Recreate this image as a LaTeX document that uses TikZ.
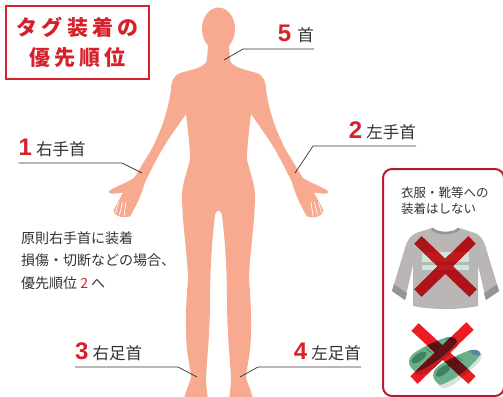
\documentclass[tikz,border=0pt]{standalone}
\usepackage{fontspec}
\usetikzlibrary{calc}
\setmainfont{Liberation Sans}
\newfontfamily\jp{Noto Sans CJK JP}
\newfontfamily\digitfont{Liberation Sans}

\definecolor{skin}{RGB}{247,170,143}
\definecolor{tagred}{RGB}{214,32,42}
\definecolor{boxred}{RGB}{183,28,44}
\definecolor{ink}{RGB}{51,51,51}
\definecolor{xred}{RGB}{236,28,36}
% plain colours of the shirt and shoes
\definecolor{shirtgray}{RGB}{186,182,182}
\definecolor{cuffgray}{RGB}{150,147,147}
\definecolor{mint}{RGB}{205,230,220}
\definecolor{shoegreen}{RGB}{104,176,138}
\definecolor{shoedark}{RGB}{62,128,98}
\definecolor{shoeblue}{RGB}{96,132,156}
\definecolor{solecol}{RGB}{214,228,220}
% the same colours seen through the red crosses
\definecolor{shirtgrayX}{RGB}{172,20,26}
\definecolor{cuffgrayX}{RGB}{139,16,21}
\definecolor{mintX}{RGB}{190,25,31}
\definecolor{shoegreenX}{RGB}{96,19,20}
\definecolor{shoedarkX}{RGB}{57,14,14}
\definecolor{shoeblueX}{RGB}{88,15,22}
\definecolor{solecolX}{RGB}{198,25,31}

\tikzset{
  leader/.style={draw=ink, line width=0.7pt},
  tag/.style={inner sep=0pt, text=ink},
}
\newcommand\numtxt[1]{{\digitfont\bfseries\fontsize{24}{24}\selectfont\color{tagred}#1}}
\newcommand\parttxt[1]{{\jp\fontsize{16.5}{16.5}\selectfont #1}}

% one bar of a cross, as a closed outline between two points
\newcommand\xband[2]{($(#1)!5.25pt!90:(#2)$) -- ($(#2)!5.25pt!-90:(#1)$)
  -- ($(#2)!5.25pt!90:(#1)$) -- ($(#1)!5.25pt!-90:(#2)$) -- cycle}

% left half of the figure, closed along the centre line
\newcommand\halfbody{%
  \fill[skin] (220,45) -- (208,45) -- (207,60)
    .. controls (205,68) and (190,70) .. (180,73)
    .. controls (173,76) and (171,82) .. (171,90)
    .. controls (168,110) and (162,130) .. (150,152)
    .. controls (143,163) and (138,172) .. (134,178)
    .. controls (128,182) and (120,185) .. (114,188)
    .. controls (109,190) and (107,193) .. (111,193.5)
    .. controls (115,194) and (119,193) .. (123,192.5)
    .. controls (120,199) and (115,206) .. (113.5,211)
    .. controls (114,216) and (123,218.5) .. (130,216.5)
    .. controls (135,208) and (140,198) .. (142.5,190)
    .. controls (144,186) and (145,182) .. (146,180)
    .. controls (152,168) and (160,152) .. (168,140)
    .. controls (176,128) and (182,120) .. (186,114)
    .. controls (188,130) and (190,148) .. (190,160)
    .. controls (186,175) and (181,188) .. (182,200)
    .. controls (183,230) and (188,260) .. (188,280)
    .. controls (186,300) and (185,330) .. (187,350)
    .. controls (189,365) and (191,372) .. (191,378)
    .. controls (189,385) and (185,392) .. (184,400)
    -- (208,400)
    .. controls (207,392) and (206,385) .. (206,378)
    .. controls (207,360) and (210,330) .. (210,300)
    .. controls (210,270) and (212,240) .. (215,215)
    .. controls (216,211) and (218,210) .. (220,210)
    -- cycle;
  \draw[white, line width=0.7pt] (118.5,202) -- (115.5,213)
    (122.5,202) -- (119.5,215) (126,202) -- (124,216);
}

% shirt, in the colours currently named shirtgray, cuffgray and mint
\newcommand\shirt{%
  \fill[shirtgray] (432,228) .. controls (437,234) and (454,234) .. (459,228)
    -- (475,233) .. controls (480,235) and (484,240) .. (486,248)
    -- (499,291) -- (486,300) -- (478,265) -- (478,306)
    .. controls (460,310) and (431,310) .. (413,306)
    -- (413,265) -- (405,300) -- (392,291) -- (405,248)
    .. controls (407,240) and (411,235) .. (416,233) -- cycle;
  \fill[cuffgray] (392,291) -- (405,300) -- (407,293.3) -- (394,284.3) -- cycle;
  \fill[cuffgray] (499,291) -- (486,300) -- (484,293.3) -- (497,284.3) -- cycle;
  \draw[cuffgray, line width=2.6pt] (432,228.5) .. controls (437,234.5) and (454,234.5) .. (459,228.5);
  \fill[mint] (422,252) rectangle (469,261.5);
  \fill[mint] (422,264.5) rectangle (469,270);
}

% one sneaker, toe towards +x
\newcommand\sneaker{%
  \fill[solecol] (-24,2) .. controls (-26,10) and (-20,12) .. (-10,12)
    -- (14,10) .. controls (24,9) and (27,4) .. (24,0) -- cycle;
  \fill[shoegreen] (-23,5) .. controls (-27,-4) and (-22,-10) .. (-14,-10)
    .. controls (-4,-10) and (6,-8) .. (14,-6)
    .. controls (22,-4) and (26,0) .. (24,4)
    .. controls (15,8) and (-10,10) .. (-23,5) -- cycle;
  \fill[shoeblue] (17,-5) .. controls (23,-3) and (26,0) .. (24,4)
    .. controls (21,4.5) and (18,2) .. (17,-5) -- cycle;
  \fill[shoedark] (-13,-4) ellipse [x radius=8, y radius=3.5];
  \draw[shoedark, line width=0.8pt] (-3,-7) -- (-1,-1) (1,-7) -- (3,-1)
    (5,-6.5) -- (7,-1);
}
\newcommand\shoes{%
  \begin{scope}[shift={(433,353)}, rotate=35, scale=1.08]
    \sneaker
  \end{scope}
  \begin{scope}[shift={(457,366)}, rotate=36, scale=1.08]
    \sneaker
  \end{scope}
}

\begin{document}
\begin{tikzpicture}[x=1pt, y=-1pt]
\useasboundingbox (0,0) rectangle (503,396);

% title
\node[draw=tagred, line width=2.2pt, minimum width=143pt, minimum height=73pt,
  inner sep=0pt, align=center, text=tagred,
  font=\jp\bfseries\fontsize{21}{30}\selectfont\addfontfeature{LetterSpace=20}]
  (title) at (77.5,42.5) {タグ装着の\\優先順位};

% figure
\fill[skin] (218.5,29) ellipse [x radius=16.5, y radius=21.5];
\halfbody
\begin{scope}[shift={(437,0)}, xscale=-1]
  \halfbody
\end{scope}

% wrist, ankle and neck points
\coordinate (w1) at (142,173);
\coordinate (w2) at (295,173);
\coordinate (w3) at (197,377);
\coordinate (w4) at (240,377);
\coordinate (w5) at (224,60);
\coordinate (k1) at (122,163);
\coordinate (k2) at (313,146);
\coordinate (k3) at (178,367);
\coordinate (k4) at (258,367);
\coordinate (k5) at (243,49);

% labels
\node[tag, anchor=base west] (l1) at (18.5,155) {\numtxt{1}\hspace{4pt}\parttxt{右手首}};
\node[tag, anchor=base east] (l2) at (416,138) {\numtxt{2}\hspace{4pt}\parttxt{左手首}};
\node[tag, anchor=base west] (l3) at (75,359) {\numtxt{3}\hspace{4pt}\parttxt{右足首}};
\node[tag, anchor=base east] (l4) at (361,359) {\numtxt{4}\hspace{4pt}\parttxt{左足首}};
\node[tag, anchor=base east] (l5) at (314,42) {\numtxt{5}\hspace{6pt}\parttxt{首}};

\draw[leader] (l1.base west |- k1) -- (k1) -- (w1);
\draw[leader] (l2.base east |- k2) -- (k2) -- (w2);
\draw[leader] (l3.base west |- k3) -- (k3) -- (w3);
\draw[leader] (l4.base east |- k4) -- (k4) -- (w4);
\draw[leader] (l5.base east |- k5) -- (k5) -- (w5);

% note on the left (node base is its last line)
\node[tag, anchor=base west, align=left,
  font=\jp\fontsize{14}{22.5}\selectfont] (note) at (21,288)
  {原則右手首に装着\\損傷・切断などの場合、\\優先順位 {\color{tagred}2} へ};

% clothing panel
\node[draw=boxred, line width=2pt, rounded corners=9pt, anchor=north west,
  minimum width=121pt, minimum height=227pt, inner sep=0pt] (panel) at (382,168) {};
\node[tag, anchor=base west, align=left,
  font=\jp\fontsize{12.5}{16.5}\selectfont] (paneltxt) at (401,213.5)
  {衣服・靴等への\\装着はしない};

% cross ends
\coordinate (sa1) at (418,240); \coordinate (sb1) at (473,293);
\coordinate (sa2) at (472,240); \coordinate (sb2) at (418,293);
\coordinate (ha1) at (415,327); \coordinate (hb1) at (472,380);
\coordinate (ha2) at (470,326); \coordinate (hb2) at (414,380);

% shirt with its cross
\shirt
\fill[xred] \xband{sa1}{sb1} \xband{sa2}{sb2};
\begin{scope}
  \clip \xband{sa1}{sb1} \xband{sa2}{sb2};
  \colorlet{shirtgray}{shirtgrayX}
  \colorlet{cuffgray}{cuffgrayX}
  \colorlet{mint}{mintX}
  \shirt
\end{scope}

% shoes with their cross
\shoes
\fill[xred] \xband{ha1}{hb1} \xband{ha2}{hb2};
\begin{scope}
  \clip \xband{ha1}{hb1} \xband{ha2}{hb2};
  \colorlet{shoegreen}{shoegreenX}
  \colorlet{shoedark}{shoedarkX}
  \colorlet{shoeblue}{shoeblueX}
  \colorlet{solecol}{solecolX}
  \shoes
\end{scope}
\end{tikzpicture}
\end{document}
